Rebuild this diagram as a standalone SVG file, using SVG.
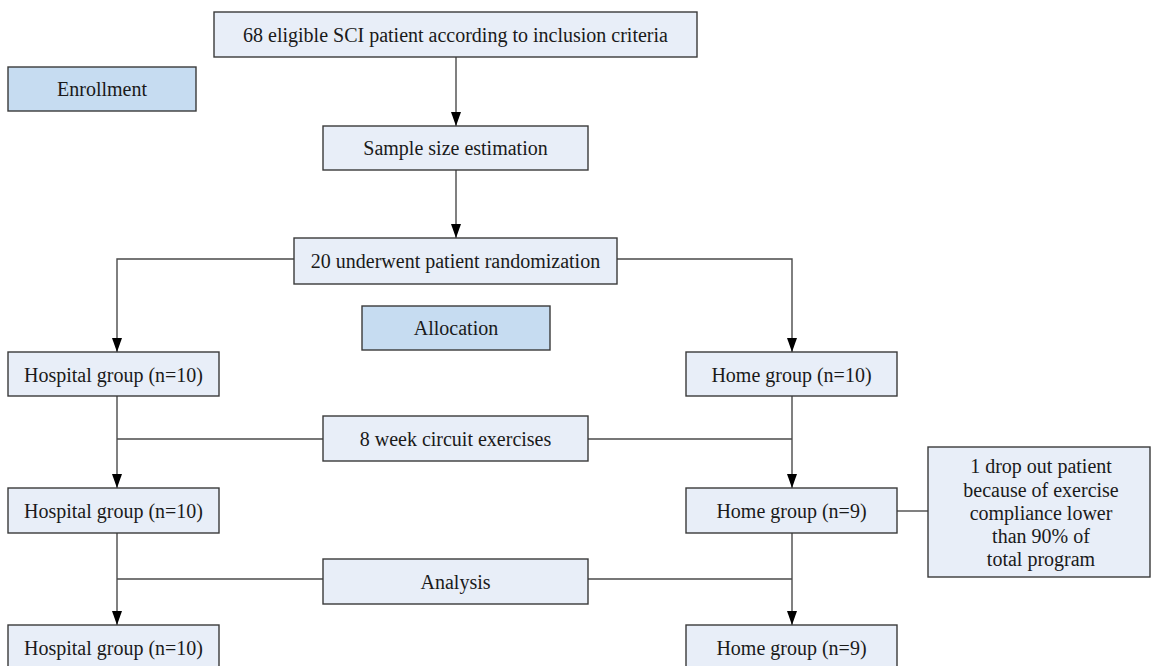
<svg xmlns="http://www.w3.org/2000/svg" width="1155" height="666" viewBox="0 0 1155 666">
<style>
.box{fill:#e8eef8;stroke:#3a3a3a;stroke-width:1.4}
.lab{fill:#c6dcf1;stroke:#3a3a3a;stroke-width:1.4}
text{font-family:"Liberation Serif","Times New Roman",serif;font-size:20px;fill:#1a1a1a;text-anchor:middle}
.ln{fill:none;stroke:#4a4a4a;stroke-width:1.4}
</style>
<defs>
<marker id="ah" viewBox="0 0 14 10" refX="14" refY="5" markerWidth="14" markerHeight="10" markerUnits="userSpaceOnUse" orient="auto">
<path d="M0,0 L14,5 L0,10 Z" fill="#000"/>
</marker>
</defs>
<rect width="1155" height="666" fill="#fff"/>
<g id="connectors">
<line class="ln" x1="456" y1="57" x2="456" y2="126" marker-end="url(#ah)"/>
<line class="ln" x1="456" y1="170" x2="456" y2="238" marker-end="url(#ah)"/>
<polyline class="ln" points="294,259 117,259 117,352" marker-end="url(#ah)"/>
<polyline class="ln" points="617,259 792,259 792,352" marker-end="url(#ah)"/>
<line class="ln" x1="117" y1="396" x2="117" y2="488" marker-end="url(#ah)"/>
<line class="ln" x1="792" y1="396" x2="792" y2="488" marker-end="url(#ah)"/>
<line class="ln" x1="323" y1="439" x2="117" y2="439"/>
<line class="ln" x1="588" y1="439" x2="792" y2="439"/>
<line class="ln" x1="117" y1="533" x2="117" y2="625" marker-end="url(#ah)"/>
<line class="ln" x1="792" y1="533" x2="792" y2="625" marker-end="url(#ah)"/>
<line class="ln" x1="323" y1="579" x2="117" y2="579"/>
<line class="ln" x1="588" y1="579" x2="792" y2="579"/>
<line class="ln" x1="897" y1="511" x2="928" y2="511"/>
</g>
<g id="n-eligible"><rect class="box" x="214" y="12" width="483" height="45"/><text x="455.5" y="41.5">68 eligible SCI patient according to inclusion criteria</text></g>
<g id="n-enrollment"><rect class="lab" x="8" y="67" width="188" height="44"/><text x="102" y="96">Enrollment</text></g>
<g id="n-sample"><rect class="box" x="323" y="126" width="265" height="44"/><text x="455.5" y="155">Sample size estimation</text></g>
<g id="n-random"><rect class="box" x="294" y="238" width="323" height="46"/><text x="455.5" y="268">20 underwent patient randomization</text></g>
<g id="n-allocation"><rect class="lab" x="362" y="306" width="188" height="44"/><text x="456" y="335">Allocation</text></g>
<g id="n-hosp1"><rect class="box" x="8" y="352" width="211" height="44"/><text x="113.5" y="381.5">Hospital group (n=10)</text></g>
<g id="n-home1"><rect class="box" x="686" y="352" width="211" height="44"/><text x="791.5" y="381.5">Home group (n=10)</text></g>
<g id="n-exercise"><rect class="box" x="323" y="416" width="265" height="45"/><text x="455.5" y="446">8 week circuit exercises</text></g>
<g id="n-hosp2"><rect class="box" x="8" y="488" width="211" height="45"/><text x="113.5" y="517.5">Hospital group (n=10)</text></g>
<g id="n-home2"><rect class="box" x="686" y="488" width="211" height="45"/><text x="791.5" y="517.5">Home group (n=9)</text></g>
<g id="n-dropout"><rect class="box" x="928" y="447" width="222" height="130"/>
<text x="1041" y="473">1 drop out patient</text>
<text x="1041" y="496.5">because of exercise</text>
<text x="1041" y="520">compliance lower</text>
<text x="1041" y="543">than 90% of</text>
<text x="1041" y="566">total program</text></g>
<g id="n-analysis"><rect class="box" x="323" y="559" width="265" height="45"/><text x="455.5" y="589">Analysis</text></g>
<g id="n-hosp3"><rect class="box" x="8" y="625" width="211" height="45"/><text x="113.5" y="654.5">Hospital group (n=10)</text></g>
<g id="n-home3"><rect class="box" x="686" y="625" width="211" height="45"/><text x="791.5" y="654.5">Home group (n=9)</text></g>
</svg>
